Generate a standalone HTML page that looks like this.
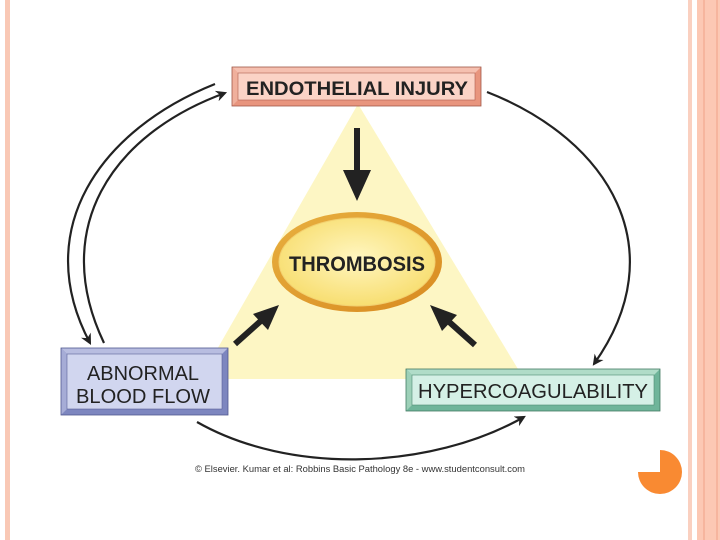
<!DOCTYPE html>
<html><head><meta charset="utf-8"><style>
html,body{margin:0;padding:0;background:#fff;width:720px;height:540px;overflow:hidden}
svg{display:block}
</style></head><body>
<svg width="720" height="540" viewBox="0 0 720 540" xmlns="http://www.w3.org/2000/svg" font-family="Liberation Sans, sans-serif">
<defs>
<radialGradient id="eg" cx="50%" cy="45%" r="60%"><stop offset="0" stop-color="#fff6c0"/><stop offset="1" stop-color="#f7dc6a"/></radialGradient>
<linearGradient id="ring" x1="0" y1="0" x2="1" y2="1"><stop offset="0" stop-color="#e8b040"/><stop offset="1" stop-color="#d88a20"/></linearGradient>
<marker id="ah" viewBox="0 0 10 10" refX="8" refY="5" markerWidth="5" markerHeight="5" orient="auto"><path d="M0,0 L10,5 L0,10 L3,5 z" fill="#222"/></marker>
</defs>
<rect x="5" y="0" width="5" height="540" fill="#f9c8b5"/>
<rect x="688" y="0" width="4" height="540" fill="#fad0c0"/>
<rect x="697" y="0" width="23" height="540" fill="#fcc8b4"/>
<rect x="703" y="0" width="2" height="540" fill="#f6b59e"/>
<rect x="716" y="0" width="2" height="540" fill="#f6b59e"/>
<polygon points="358,104 200,379 524,379" fill="#fdf6c4"/>
<ellipse cx="357" cy="262" rx="85" ry="50" fill="url(#ring)"/>
<ellipse cx="357" cy="262" rx="78" ry="44" fill="url(#eg)" stroke="#f2d070" stroke-width="1"/>
<text x="357" y="271" text-anchor="middle" font-size="21" font-weight="bold" fill="#222" textLength="136" lengthAdjust="spacingAndGlyphs">THROMBOSIS</text>
<line x1="357" y1="128" x2="357" y2="175" stroke="#222" stroke-width="6"/>
<polygon points="343,170 371,170 357,201" fill="#222"/>
<line x1="235" y1="344" x2="263" y2="319" stroke="#222" stroke-width="6"/>
<polygon points="279,305 253,314 268,330" fill="#222"/>
<line x1="475" y1="345" x2="447" y2="320" stroke="#222" stroke-width="6"/>
<polygon points="430,305 442,331 457,315" fill="#222"/>
<g fill="none" stroke="#222" stroke-width="2.2">
<path d="M215,84 C100,130 30,230 90,343" marker-end="url(#ah)"/>
<path d="M104,343 C50,230 110,135 225,93" marker-end="url(#ah)"/>
<path d="M487,92 C610,140 675,250 594,364" marker-end="url(#ah)"/>
<path d="M197,422 C290,475 430,470 524,417" marker-end="url(#ah)"/>
</g>
<rect x="232" y="67" width="249" height="39" fill="#e8957e"/>
<polygon points="232,67 481,67 475,73 238,73" fill="#f5c0b0"/>
<polygon points="232,67 238,73 238,100 232,106" fill="#f0b09c"/>
<rect x="238" y="73" width="237" height="27" fill="#fbd3c6" stroke="#b06050" stroke-width="0.6"/>
<rect x="232" y="67" width="249" height="39" fill="none" stroke="#a05848" stroke-width="0.8"/>
<text x="357" y="95" text-anchor="middle" font-size="19" font-weight="bold" fill="#222" textLength="222" lengthAdjust="spacingAndGlyphs">ENDOTHELIAL INJURY</text>
<rect x="61" y="348" width="167" height="67" fill="#7d86bf"/>
<polygon points="61,348 228,348 222,354 67,354" fill="#b8bde0"/>
<polygon points="61,348 67,354 67,409 61,415" fill="#a6acd6"/>
<rect x="67" y="354" width="155" height="55" fill="#d1d6ef" stroke="#5a6298" stroke-width="0.6"/>
<rect x="61" y="348" width="167" height="67" fill="none" stroke="#505890" stroke-width="0.8"/>
<text x="143" y="380" text-anchor="middle" font-size="20" fill="#222" textLength="112" lengthAdjust="spacingAndGlyphs">ABNORMAL</text>
<text x="143" y="403" text-anchor="middle" font-size="20" fill="#222" textLength="134" lengthAdjust="spacingAndGlyphs">BLOOD FLOW</text>
<rect x="406" y="369" width="254" height="42" fill="#6fb59a"/>
<polygon points="406,369 660,369 654,375 412,375" fill="#b0dcc8"/>
<polygon points="406,369 412,375 412,405 406,411" fill="#9dd0b8"/>
<rect x="412" y="375" width="242" height="30" fill="#d5f0e6" stroke="#4f8a72" stroke-width="0.6"/>
<rect x="406" y="369" width="254" height="42" fill="none" stroke="#437a62" stroke-width="0.8"/>
<text x="533" y="398" text-anchor="middle" font-size="20" fill="#222" textLength="230" lengthAdjust="spacingAndGlyphs">HYPERCOAGULABILITY</text>
<text x="360" y="472" text-anchor="middle" font-size="9" fill="#333" textLength="330" lengthAdjust="spacingAndGlyphs">© Elsevier. Kumar et al: Robbins Basic Pathology 8e - www.studentconsult.com</text>
<path d="M660,472 L660,450 A22,22 0 1 1 638,472 Z" fill="#f98a32"/>
</svg>
</body></html>
